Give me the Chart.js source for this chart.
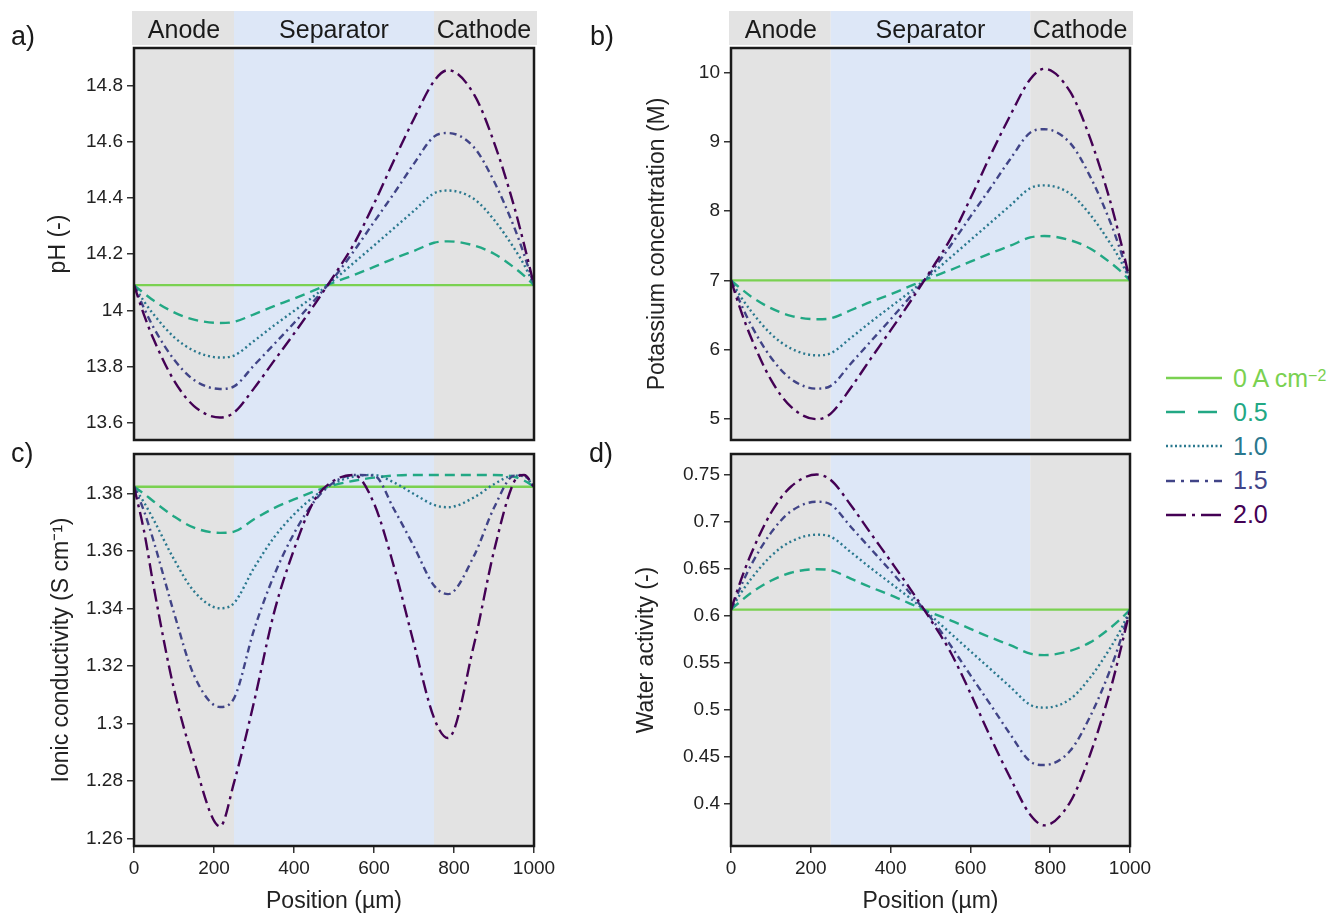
<!DOCTYPE html>
<html>
<head>
<meta charset="utf-8">
<script src="https://cdn.jsdelivr.net/npm/chart.js@4.4.1/dist/chart.umd.min.js"></script>
<style>
  body { margin: 0; background: #fff; width: 1338px; height: 913px; position: relative; overflow: hidden;
         font-family: "Liberation Sans", Arial, sans-serif; color: #222; }
  .box { position: absolute; }
  .lab { position: absolute; font-size: 27px; line-height: 1; color: #1a1a1a; }
  #legend { position: absolute; left: 1166px; top: 361px; }
  .row { height: 34.2px; display: flex; align-items: center; font-size: 25px; white-space: nowrap; }
  .row svg { margin-right: 11px; }
  .row sup { font-size: 16px; position: relative; top: -2px; }
</style>
</head>
<body>
<div class="box" style="left:0;top:0;width:580px;height:450px"><canvas id="chart-ph"></canvas></div>
<div class="box" style="left:580px;top:0;width:580px;height:450px"><canvas id="chart-k"></canvas></div>
<div class="box" style="left:0;top:450px;width:580px;height:463px"><canvas id="chart-cond"></canvas></div>
<div class="box" style="left:580px;top:450px;width:580px;height:463px"><canvas id="chart-aw"></canvas></div>
<div class="lab" style="left:11px;top:23px">a)</div>
<div class="lab" style="left:590px;top:23px">b)</div>
<div class="lab" style="left:11px;top:440px">c)</div>
<div class="lab" style="left:589px;top:440px">d)</div>
<div id="legend"></div>
<script>
{ // scoping

// positions along the cell (µm)
const positions = [0, 25, 50, 100, 150, 215, 250, 300, 350, 400, 450, 500, 550, 600, 650, 700, 750, 785, 850, 900, 950, 975, 1000];
const currents = ['0', '0.5', '1.0', '1.5', '2.0'];

// regions of the cell
const regionNames = ['Anode', 'Separator', 'Cathode'];
const regionStart = [0, 250, 750];
const regionEnd = [250, 750, 1000];

// tick labels
const xTicks = [0, 200, 400, 600, 800, 1000];
const phTicks = [13.6, 13.8, 14, 14.2, 14.4, 14.6, 14.8];
const kTicks = [5, 6, 7, 8, 9, 10];
const condTicks = [1.26, 1.28, 1.3, 1.32, 1.34, 1.36, 1.38];
const awTicks = [0.4, 0.45, 0.5, 0.55, 0.6, 0.65, 0.7, 0.75];

// a) pH
const ph00 = [14.09, 14.09, 14.09, 14.09, 14.09, 14.09, 14.09, 14.09, 14.09, 14.09, 14.09, 14.09, 14.09, 14.09, 14.09, 14.09, 14.09, 14.09, 14.09, 14.09, 14.09, 14.09, 14.09];
const ph05 = [14.09, 14.061, 14.034, 13.993, 13.967, 13.955, 13.959, 13.986, 14.015, 14.042, 14.071, 14.100, 14.126, 14.155, 14.185, 14.212, 14.241, 14.246, 14.231, 14.202, 14.153, 14.124, 14.09];
const ph10 = [14.09, 14.032, 13.984, 13.905, 13.856, 13.832, 13.839, 13.891, 13.946, 13.998, 14.051, 14.109, 14.170, 14.231, 14.293, 14.355, 14.417, 14.427, 14.397, 14.323, 14.222, 14.163, 14.09];
const ph15 = [14.09, 14.008, 13.936, 13.825, 13.752, 13.720, 13.729, 13.804, 13.879, 13.955, 14.034, 14.117, 14.212, 14.315, 14.417, 14.523, 14.619, 14.632, 14.581, 14.460, 14.298, 14.200, 14.09];
const ph20 = [14.09, 13.984, 13.894, 13.750, 13.659, 13.618, 13.636, 13.722, 13.820, 13.917, 14.018, 14.124, 14.237, 14.380, 14.535, 14.683, 14.817, 14.856, 14.770, 14.599, 14.372, 14.236, 14.09];

// b) potassium concentration (M)
const k00 = [7, 7, 7, 7, 7, 7, 7, 7, 7, 7, 7, 7, 7, 7, 7, 7, 7, 7, 7, 7, 7, 7, 7];
const k05 = [7, 6.88, 6.77, 6.60, 6.49, 6.44, 6.455, 6.57, 6.69, 6.80, 6.92, 7.04, 7.15, 7.27, 7.39, 7.50, 7.62, 7.64, 7.58, 7.46, 7.26, 7.14, 7];
const k10 = [7, 6.76, 6.56, 6.23, 6.02, 5.92, 5.95, 6.17, 6.40, 6.62, 6.84, 7.08, 7.33, 7.58, 7.83, 8.08, 8.33, 8.37, 8.25, 7.95, 7.54, 7.30, 7];
const k15 = [7, 6.66, 6.36, 5.89, 5.58, 5.44, 5.48, 5.80, 6.12, 6.44, 6.77, 7.11, 7.50, 7.92, 8.33, 8.75, 9.13, 9.18, 8.98, 8.50, 7.85, 7.45, 7];
const k20 = [7, 6.56, 6.18, 5.57, 5.18, 5.00, 5.08, 5.45, 5.87, 6.28, 6.70, 7.14, 7.60, 8.18, 8.80, 9.38, 9.90, 10.05, 9.72, 9.05, 8.15, 7.60, 7];

// c) ionic conductivity (S cm-1)
const s00 = [1.3823, 1.3823, 1.3823, 1.3823, 1.3823, 1.3823, 1.3823, 1.3823, 1.3823, 1.3823, 1.3823, 1.3823, 1.3823, 1.3823, 1.3823, 1.3823, 1.3823, 1.3823, 1.3823, 1.3823, 1.3823, 1.3823, 1.3823];
const s05 = [1.3823, 1.3799, 1.3771, 1.3720, 1.3681, 1.3663, 1.3667, 1.3710, 1.3749, 1.3779, 1.3807, 1.3829, 1.3844, 1.3855, 1.3862, 1.3864, 1.3864, 1.3864, 1.3864, 1.3864, 1.3858, 1.3845, 1.3823];
const s10 = [1.3823, 1.3769, 1.3706, 1.3571, 1.3460, 1.3401, 1.3419, 1.3541, 1.3647, 1.3727, 1.3789, 1.3835, 1.3859, 1.3864, 1.3838, 1.3798, 1.3760, 1.3752, 1.3786, 1.3832, 1.3862, 1.3860, 1.3823];
const s15 = [1.3823, 1.3739, 1.3630, 1.3385, 1.3168, 1.3058, 1.3088, 1.3326, 1.3515, 1.3661, 1.3771, 1.3839, 1.3864, 1.3862, 1.3745, 1.3615, 1.3480, 1.3450, 1.3583, 1.3750, 1.3862, 1.3864, 1.3823];
const s20 = [1.3823, 1.3670, 1.3470, 1.3120, 1.2870, 1.2643, 1.2795, 1.3075, 1.3385, 1.3605, 1.3774, 1.3845, 1.3864, 1.3765, 1.3545, 1.3277, 1.3020, 1.2950, 1.3275, 1.3600, 1.3840, 1.3864, 1.3823];

// d) water activity (-)
const w00 = [0.6065, 0.6065, 0.6065, 0.6065, 0.6065, 0.6065, 0.6065, 0.6065, 0.6065, 0.6065, 0.6065, 0.6065, 0.6065, 0.6065, 0.6065, 0.6065, 0.6065, 0.6065, 0.6065, 0.6065, 0.6065, 0.6065, 0.6065];
const w05 = [0.6065, 0.6157, 0.6242, 0.6373, 0.6458, 0.6496, 0.6485, 0.6396, 0.6304, 0.6219, 0.6127, 0.6035, 0.5951, 0.5860, 0.5769, 0.5686, 0.5595, 0.5580, 0.5625, 0.5716, 0.5868, 0.5959, 0.6065];
const w10 = [0.6065, 0.6243, 0.6391, 0.6635, 0.6790, 0.6864, 0.6842, 0.6679, 0.6509, 0.6346, 0.6183, 0.6004, 0.5813, 0.5622, 0.5432, 0.5241, 0.5050, 0.5020, 0.5111, 0.5340, 0.5653, 0.5836, 0.6065];
const w15 = [0.6065, 0.6316, 0.6537, 0.6883, 0.7112, 0.7215, 0.7185, 0.6949, 0.6714, 0.6478, 0.6235, 0.5981, 0.5685, 0.5366, 0.5054, 0.4735, 0.4446, 0.4408, 0.4560, 0.4925, 0.5419, 0.5723, 0.6065];
const w20 = [0.6065, 0.6382, 0.6655, 0.7095, 0.7375, 0.7505, 0.7447, 0.7181, 0.6879, 0.6583, 0.6281, 0.5959, 0.5613, 0.5175, 0.4708, 0.4270, 0.3878, 0.3765, 0.4014, 0.4519, 0.5198, 0.5613, 0.6065];

// styles
const FONT = '"Liberation Sans", Arial, sans-serif';
const lineColors = ['#7ad151', '#22a884', '#2a788e', '#414487', '#440154'];
const lineDashes = [[], [10, 6], [2, 3], [7, 4, 2, 4], [13, 5, 3, 5]];
const legendDashes = ['', '19 13', '2 2.5', '9 6 3 6', '20 6 3 6'];
const regionColors = ['#e3e3e3', '#dde7f7', '#e3e3e3'];

Chart.defaults.font.family = FONT;
Chart.defaults.color = '#222';

// shaded regions, header band and frame
const regionPlugin = {
  id: 'regions',
  beforeDatasetsDraw(chart, args, opts) {
    const { ctx, chartArea: a, scales: { x } } = chart;
    ctx.save();
    for (let i = 0; i < regionNames.length; i++) {
      const x0 = x.getPixelForValue(regionStart[i]);
      const x1 = x.getPixelForValue(regionEnd[i]);
      ctx.fillStyle = regionColors[i];
      ctx.fillRect(x0, a.top, x1 - x0, a.bottom - a.top);
      if (opts.header) {
        const l = i === 0 ? x0 - 2 : x0;
        const r = i === regionNames.length - 1 ? x1 + 3 : x1;
        ctx.fillRect(l, 11, r - l, 34);
        ctx.fillStyle = '#1a1a1a';
        ctx.font = '25px ' + FONT;
        ctx.textAlign = 'center';
        ctx.textBaseline = 'alphabetic';
        ctx.fillText(regionNames[i], (x0 + x1) / 2, 37.5);
      }
    }
    ctx.restore();
  },
  afterDatasetsDraw(chart) {
    const { ctx, chartArea: a } = chart;
    ctx.save();
    ctx.strokeStyle = '#1a1a1a';
    ctx.lineWidth = 2.5;
    ctx.strokeRect(a.left, a.top, a.right - a.left, a.bottom - a.top);
    ctx.restore();
  }
};

function makeChart(id, seriesList, yTicks, yMin, yMax, yTitle, opt) {
  const datasets = seriesList.map((vals, i) => ({
    label: currents[i],
    data: positions.map((p, j) => ({ x: p, y: vals[j] })),
    borderColor: lineColors[i],
    borderDash: lineDashes[i],
    borderWidth: 2.4,
    pointRadius: 0,
    fill: false,
    cubicInterpolationMode: 'monotone',
    order: seriesList.length - i
  }));

  const tickGrid = { drawOnChartArea: false, drawTicks: true, tickLength: 7, color: '#333', lineWidth: 1.5 };

  return new Chart(document.getElementById(id), {
    type: 'line',
    data: { datasets },
    plugins: [regionPlugin],
    options: {
      responsive: true,
      maintainAspectRatio: false,
      animation: false,
      layout: { padding: opt.padding },
      plugins: {
        legend: { display: false },
        tooltip: { enabled: false },
        regions: { header: opt.header }
      },
      scales: {
        x: {
          type: 'linear',
          min: 0,
          max: 1000,
          display: opt.showX,
          afterBuildTicks: s => { s.ticks = xTicks.map(v => ({ value: v })); },
          afterFit: s => {
            if (opt.showX) s.height = 67;
            s.paddingLeft = 0; s.paddingRight = 0;
          },
          grid: tickGrid,
          border: { display: false },
          ticks: {
            font: { size: 19 }, color: '#222', padding: 4, maxRotation: 0, autoSkip: false,
            callback: v => String(v)
          },
          title: { display: true, text: 'Position (µm)', color: '#222', font: { size: 23, lineHeight: 1 }, padding: 0 }
        },
        y: {
          type: 'linear',
          min: yMin,
          max: yMax,
          afterBuildTicks: s => { s.ticks = yTicks.map(v => ({ value: v })); },
          afterFit: s => { s.width = opt.yWidth; s.paddingTop = 0; s.paddingBottom = 0; },
          grid: tickGrid,
          border: { display: false },
          ticks: {
            font: { size: 19 }, color: '#222', padding: 4, autoSkip: false,
            callback: v => String(+v.toFixed(3))
          },
          title: { display: true, text: yTitle, color: '#222', font: { size: 23, lineHeight: 1 }, padding: { top: opt.titlePad, bottom: 0 } }
        }
      }
    }
  });
}

makeChart('chart-ph', [ph00, ph05, ph10, ph15, ph20], phTicks, 13.538, 14.935, 'pH (-)',
  { padding: { top: 48, right: 46, bottom: 10, left: 0 }, yWidth: 134, titlePad: 47, showX: false, header: true });
makeChart('chart-k', [k00, k05, k10, k15, k20], kTicks, 4.70, 10.35, 'Potassium concentration (M)',
  { padding: { top: 48, right: 30, bottom: 10, left: 0 }, yWidth: 151, titlePad: 66, showX: false, header: true });
makeChart('chart-cond', [s00, s05, s10, s15, s20], condTicks, 1.2575, 1.3937, 'Ionic conductivity (S cm⁻¹)',
  { padding: { top: 4, right: 46, bottom: 0, left: 0 }, yWidth: 134, titlePad: 50, showX: true, header: false });
makeChart('chart-aw', [w00, w05, w10, w15, w20], awTicks, 0.3545, 0.7724, 'Water activity (-)',
  { padding: { top: 4, right: 30, bottom: 0, left: 0 }, yWidth: 151, titlePad: 55, showX: true, header: false });

// legend
const legend = document.getElementById('legend');
currents.forEach((c, i) => {
  const row = document.createElement('div');
  row.className = 'row';
  row.style.color = lineColors[i];
  const dash = legendDashes[i] ? ' stroke-dasharray="' + legendDashes[i] + '"' : '';
  row.innerHTML = '<svg width="56" height="10"><line x1="0" y1="5" x2="56" y2="5" stroke="' + lineColors[i] +
    '" stroke-width="2.6"' + dash + '/></svg>' + (i === 0 ? c + ' A cm<sup>−2</sup>' : c);
  legend.appendChild(row);
});

} // scoping
</script>
</body>
</html>
